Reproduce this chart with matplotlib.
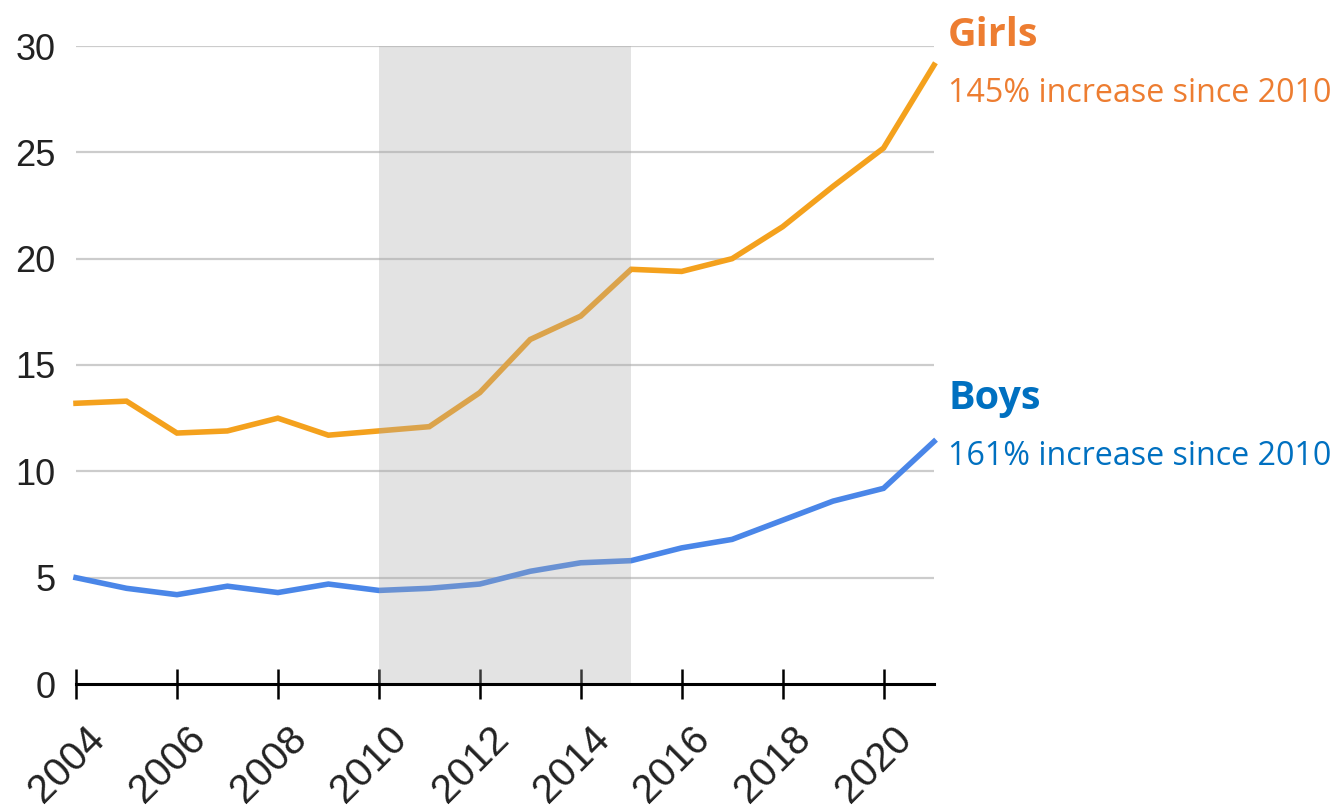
import matplotlib
matplotlib.use("Agg")
import matplotlib.pyplot as plt
import matplotlib.transforms as mtransforms

years = list(range(2004, 2022))
girls = [13.2, 13.3, 11.8, 11.9, 12.5, 11.7, 11.9, 12.1, 13.7, 16.2, 17.3, 19.5, 19.4, 20.0, 21.5, 23.4, 25.2, 29.1]
boys = [5.0, 4.5, 4.2, 4.6, 4.3, 4.7, 4.4, 4.5, 4.7, 5.3, 5.7, 5.8, 6.4, 6.8, 7.7, 8.6, 9.2, 11.4]
shade_start, shade_end = 2010, 2015
xtick_years = list(range(2004, 2021, 2))
yticks = [0, 5, 10, 15, 20, 25, 30]

W, H = 1340, 810
fig = plt.figure(figsize=(W / 100, H / 100), dpi=100)
ax = fig.add_axes([76 / W, 1 - 684 / H, (934 - 76) / W, (684 - 46) / H])
ax.set_xlim(2004, 2021)
ax.set_ylim(0, 30)

for y in yticks[1:]:
    ax.axhline(y, color="#cccccc", lw=1.6, zorder=1)

ax.plot(years, girls, color="#F4A11D", lw=4.0, zorder=2, solid_joinstyle="miter", clip_on=False)
ax.plot(years, boys, color="#4A86E8", lw=4.0, zorder=2, solid_joinstyle="miter", clip_on=False)

ax.axvspan(shade_start, shade_end, ymin=0, ymax=1, color="#aaaaaa", alpha=0.33, lw=0, zorder=3)

for s in ["top", "right", "left"]:
    ax.spines[s].set_visible(False)
ax.spines["bottom"].set_linewidth(2.2)
ax.spines["bottom"].set_color("black")
ax.spines["bottom"].set_zorder(5)

ax.set_yticks(yticks)
ax.set_yticklabels([str(v) for v in yticks], fontsize=26, family="Liberation Sans", color="#222222")
ax.tick_params(axis="y", length=0, pad=15)

ax.set_xticks(xtick_years)
ax.set_xticklabels([str(v) for v in xtick_years], fontsize=29, family="Liberation Sans",
                   rotation=45, ha="right", va="top", rotation_mode="anchor", color="#222222")
ax.tick_params(axis="x", direction="inout", length=22, width=1.8, color="black", pad=0)
offset = mtransforms.ScaledTranslation(9 / 100, -20 / 100, fig.dpi_scale_trans)
for lbl in ax.get_xticklabels():
    lbl.set_transform(lbl.get_transform() + offset)

fig.text(948 / W, 1 - 35 / H, "Girls", color="#ED7D31", fontsize=28.5, fontweight="bold",
         family="Open Sans", va="center", ha="left")
fig.text(948 / W, 1 - 93 / H, "145% increase since 2010", color="#ED7D31", fontsize=23.2,
         family="Open Sans", va="center", ha="left")
fig.text(948 / W, 1 - 399 / H, "Boys", color="#0070C0", fontsize=28.5, fontweight="bold",
         family="Open Sans", va="center", ha="left")
fig.text(948 / W, 1 - 456 / H, "161% increase since 2010", color="#0070C0", fontsize=23.2,
         family="Open Sans", va="center", ha="left")

fig.savefig("out.png", dpi=100, facecolor="white")
